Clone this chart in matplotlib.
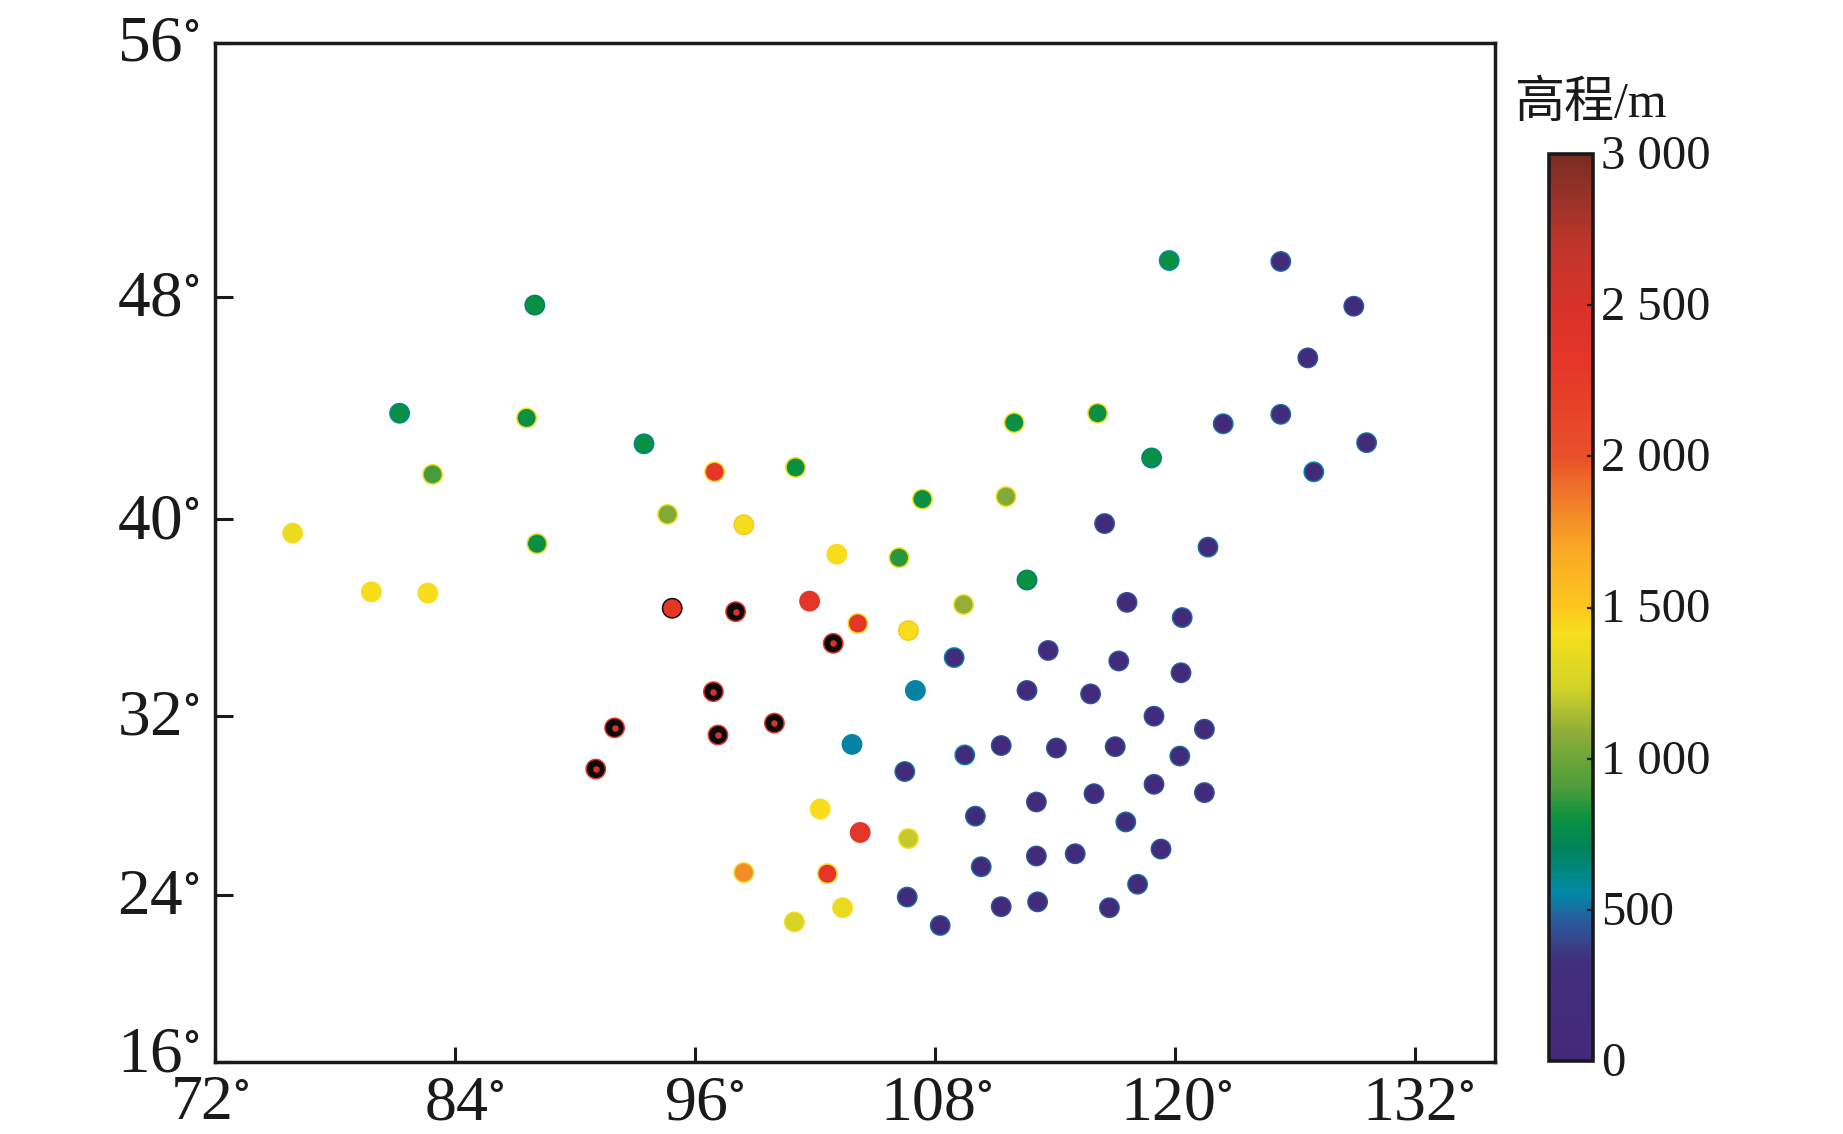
from matplotlib.colors import LinearSegmentedColormap, Normalize
from matplotlib.cm import ScalarMappable
from matplotlib.transforms import ScaledTranslation
import numpy as np
import matplotlib.pyplot as plt

plt.close("all")
plt.rcParams['font.family'] = ['Liberation Serif', 'Noto Sans CJK SC']
plt.rcParams['mathtext.fontset'] = 'stix'

lon = [119.71,125.29,128.94,87.99,126.64,81.23,87.58,125.29,122.41,111.96,116.13,129.58,93.45,118.83,
       82.88,96.98,101.03,126.94,107.37,111.55,94.63,98.44,116.48,75.88,88.10,121.65,103.09,106.20,
       112.60,79.82,82.64,94.86,98.03,101.73,109.43,117.60,120.36,104.14,106.67,102.91,113.66,108.96,
       117.19,120.30,96.92,107.02,112.60,115.78,118.95,91.98,99.97,97.15,121.47,103.85,111.31,114.07,
       117.01,120.24,109.49,91.04,106.49,118.95,115.95,121.47,113.07,102.26,110.02,117.54,104.26,106.67,
       119.30,115.01,113.07,110.31,98.44,102.62,118.13,106.61,103.38,111.31,113.13,116.72,100.97,108.26]
lat = [49.15,49.12,47.67,47.71,45.81,43.82,43.65,43.78,43.44,43.48,43.82,42.76,42.72,42.21,
       41.62,41.71,41.87,41.71,40.73,40.82,40.18,39.78,39.83,39.44,39.01,38.87,38.58,38.44,
       37.53,37.05,37.00,36.38,36.24,36.67,36.53,36.62,36.00,35.76,35.47,34.95,34.66,34.37,
       34.23,33.75,32.98,33.03,33.03,32.89,31.98,31.46,31.67,31.14,31.40,30.72,30.67,30.56,
       30.62,30.20,30.25,29.62,29.51,28.94,28.52,28.57,28.15,27.84,27.52,27.26,26.79,26.52,
       26.05,25.84,25.74,25.26,25.00,24.95,24.48,23.90,23.39,23.44,23.67,23.39,22.71,22.54]
# dot centre and dot rim, the scan shows two colours on many stations; 3200 = off scale, black
elev = [790,100,100,790,100,790,790,100,100,790,790,100,790,790,
        900,2300,790,100,790,1050,1050,1420,100,1350,790,100,1420,850,
        790,1420,1420,2300,3200,2330,1100,100,100,2330,1420,3200,100,100,
        100,100,3200,540,100,100,100,3200,3200,3200,100,540,100,100,
        100,100,100,3200,100,100,100,100,100,1420,100,100,2330,1200,
        100,100,100,100,1800,2330,100,100,1350,100,100,100,1250,100]
rim = [560,500,450,700,450,600,1400,500,500,1400,1400,500,600,650,
       1400,1420,1400,540,1400,1400,1400,1500,450,1400,1300,500,1420,1400,
       700,1420,1420,3200,2400,2330,1400,450,500,1420,1500,2400,450,540,
       450,450,2300,540,450,450,450,2300,2400,2300,450,540,450,450,
       450,500,540,2400,500,450,450,450,450,1420,500,500,2330,1400,
       450,450,450,500,1450,1420,500,500,1420,450,450,450,1400,500]

xticks = [72,84,96,108,120,132]
yticks = [16,24,32,40,48,56]
ytick_pos = [0,0.1639,0.3398,0.5325,0.7507,1]   # map projection, ticks are not evenly spaced
cbar_ticks = [0,500,1000,1500,2000,2500,3000]
cbar_labels = ["0","500","1 000","1 500","2 000","2 500","3 000"]

cvals = [0,330,460,554,698,795,900,1000,1100,1237,1417,1500,1700,1878,2000,2321,2500,2700,2850,3000]
ccols = ["#44297a","#41307c","#2a5a9c","#0089a5","#00835a","#0a9140","#4a9c3c","#6ea63a","#96b038","#d4d327",
         "#f7df1c","#fdc71e","#f9a826","#f0762a","#e95029","#e53528","#d83228","#bf352b","#9b3228","#7a2c22"]

cmap = LinearSegmentedColormap.from_list("elev", [(v/3000,c) for v,c in zip(cvals,ccols)], N=256)
cmap.set_over("#0a0a0a")
norm = Normalize(0,3000)
dark = "#1a1a1a"

W, H = 1843, 1134
fig = plt.figure(figsize=(W/100,H/100), dpi=100)
ax = fig.add_axes([215/W, 1-1062/H, 1280/W, 1019/H])

ax.set_xlim(72,136)
ax.set_yscale('function', functions=(lambda v: np.interp(v,yticks,ytick_pos), lambda v: np.interp(v,ytick_pos,yticks)))
ax.set_ylim(16,56)

ax.scatter(lon,lat,c=rim,s=225,cmap=cmap,norm=norm,linewidths=0,zorder=2)
ax.scatter(lon,lat,c=elev,s=165,cmap=cmap,norm=norm,linewidths=0,zorder=3)
blk = np.array(elev) > 3000
ax.scatter(np.array(lon)[blk],np.array(lat)[blk],c="#d8322a",s=22,linewidths=0,zorder=4)

ax.set_xticks(xticks)
ax.set_xticklabels([str(i)+"$^{\\circ}$" for i in xticks])
ax.set_yticks(yticks)
ax.set_yticklabels([str(i)+"$^{\\circ}$" for i in yticks])
ax.minorticks_off()
ax.tick_params(axis='x',direction='in',length=11,width=2.2,color=dark,labelsize=46,labelcolor=dark,pad=9.5)
ax.tick_params(axis='y',direction='in',length=13,width=2.2,color=dark,labelsize=47,labelcolor=dark,pad=11)
for s in ax.spines.values():
    s.set_linewidth(2.5)
    s.set_color(dark)

# labels in the reference are not centred on their ticks
for lab, dx in zip(ax.get_xticklabels(),[-5,9,9,1,1,3]):
    lab.set_transform(lab.get_transform()+ScaledTranslation(dx/100,0,fig.dpi_scale_trans))
for lab, dy in zip(ax.get_yticklabels(),[13,4,4,4,4,5]):
    lab.set_transform(lab.get_transform()+ScaledTranslation(0,dy/100,fig.dpi_scale_trans))

cax = fig.add_axes([1549/W, 1-1061/H, 44/W, 907/H])
cb = fig.colorbar(ScalarMappable(norm=norm,cmap=cmap),cax=cax)
cb.set_ticks(cbar_ticks)
cb.set_ticklabels(cbar_labels)
cb.ax.minorticks_off()
cb.ax.tick_params(axis='y',direction='in',length=4,width=1.6,color=dark,labelsize=35,labelcolor=dark,pad=6)
cb.outline.set_linewidth(2.6)
cb.outline.set_edgecolor(dark)
for lab in cb.ax.get_yticklabels():
    lab.set_transform(lab.get_transform()+ScaledTranslation(0,2/100,fig.dpi_scale_trans))

fig.text(1514/W,1-117/H,"高程/m",fontsize=36,color=dark,ha="left",va="baseline")

plt.savefig("out.png",dpi=100)
